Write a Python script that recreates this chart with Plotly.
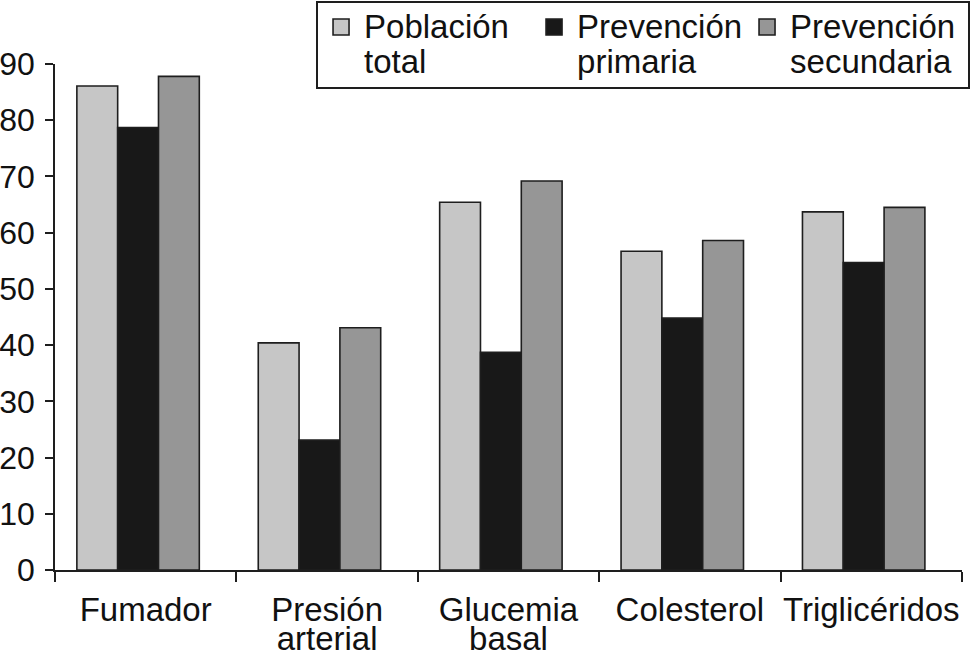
import plotly.graph_objects as go

categories = ["Fumador", "Presión arterial", "Glucemia basal", "Colesterol", "Triglicéridos"]
tick_lines = [["Fumador"], ["Presión", "arterial"], ["Glucemia", "basal"], ["Colesterol"], ["Triglicéridos"]]
series_names = ["Población total", "Prevención primaria", "Prevención secundaria"]
legend_lines = [["Población", "total"], ["Prevención", "primaria"], ["Prevención", "secundaria"]]
poblacion_total = [86.1, 40.4, 65.4, 56.7, 63.7]
prevencion_primaria = [78.7, 23.1, 38.7, 44.8, 54.7]
prevencion_secundaria = [87.8, 43.1, 69.2, 58.6, 64.5]
y_ticks = [0, 10, 20, 30, 40, 50, 60, 70, 80, 90]

colors = ["#c6c6c6", "#181818", "#969696"]
edge = "#1e1e1e"
FONT = "Liberation Sans, Arial, Helvetica, sans-serif"
BAR_W = 0.225
GROUP_SHIFT = -0.042
LEGEND_W = [162, 162, 173]


def big(lines, size):
    return "<br>".join(f'<span style="font-size:{size}px">{t}</span>' for t in lines)


fig = go.Figure()
series = [poblacion_total, prevencion_primaria, prevencion_secundaria]
for k, (name, vals, col) in enumerate(zip(series_names, series, colors)):
    fig.add_trace(go.Bar(
        x=categories, y=vals, name=name,
        width=BAR_W, offset=-1.5 * BAR_W + GROUP_SHIFT + k * BAR_W,
        marker=dict(color=col, line=dict(color=edge, width=1.6)),
        showlegend=False,
    ))

# legend entries
for lines, col, lw in zip(legend_lines, colors, LEGEND_W):
    fig.add_trace(go.Scatter(
        x=[None], y=[None], mode="markers", name=big(lines, 33),
        marker=dict(symbol="square", size=16, color=col, line=dict(color=edge, width=1.6)),
        showlegend=True, legendwidth=lw,
    ))

fig.update_layout(
    width=973, height=654,
    margin=dict(l=55, r=11, t=64, b=84, autoexpand=False),
    paper_bgcolor="white", plot_bgcolor="white",
    barmode="overlay",
    font=dict(family=FONT, color="#111111"),
    legend=dict(
        orientation="h", x=0.2878, xanchor="left", y=1.1245, yanchor="top",
        bordercolor="#1e1e1e", borderwidth=2, bgcolor="white",
        font=dict(family=FONT, size=27, color="#111111"),
        valign="top", itemwidth=36, entrywidth=162, entrywidthmode="pixels",
        tracegroupgap=0,
    ),
    xaxis=dict(
        type="category", categoryorder="array", categoryarray=categories,
        tickmode="array", tickvals=categories, ticktext=[big(l, 33) for l in tick_lines],
        tickangle=0,
        tickson="boundaries", ticks="outside", ticklen=10, tickwidth=1.6, tickcolor=edge,
        showline=True, linecolor=edge, linewidth=1.6, showgrid=False, zeroline=False,
        tickfont=dict(family=FONT, size=22, color="#111111"), ticklabelstandoff=23,
        range=[-0.5, 4.5], fixedrange=True,
    ),
    yaxis=dict(
        range=[0, 90], tickmode="array", tickvals=y_ticks,
        ticks="outside", ticklen=8, tickwidth=1.6, tickcolor=edge,
        showline=True, linecolor=edge, linewidth=1.6, showgrid=False, zeroline=False,
        tickfont=dict(family=FONT, size=32, color="#111111"), ticklabelstandoff=4,
        fixedrange=True,
    ),
)

fig.write_html(
    "out.html",
    config={"displayModeBar": False},
    post_script="document.body.style.margin='0';document.body.style.overflow='hidden';",
)
